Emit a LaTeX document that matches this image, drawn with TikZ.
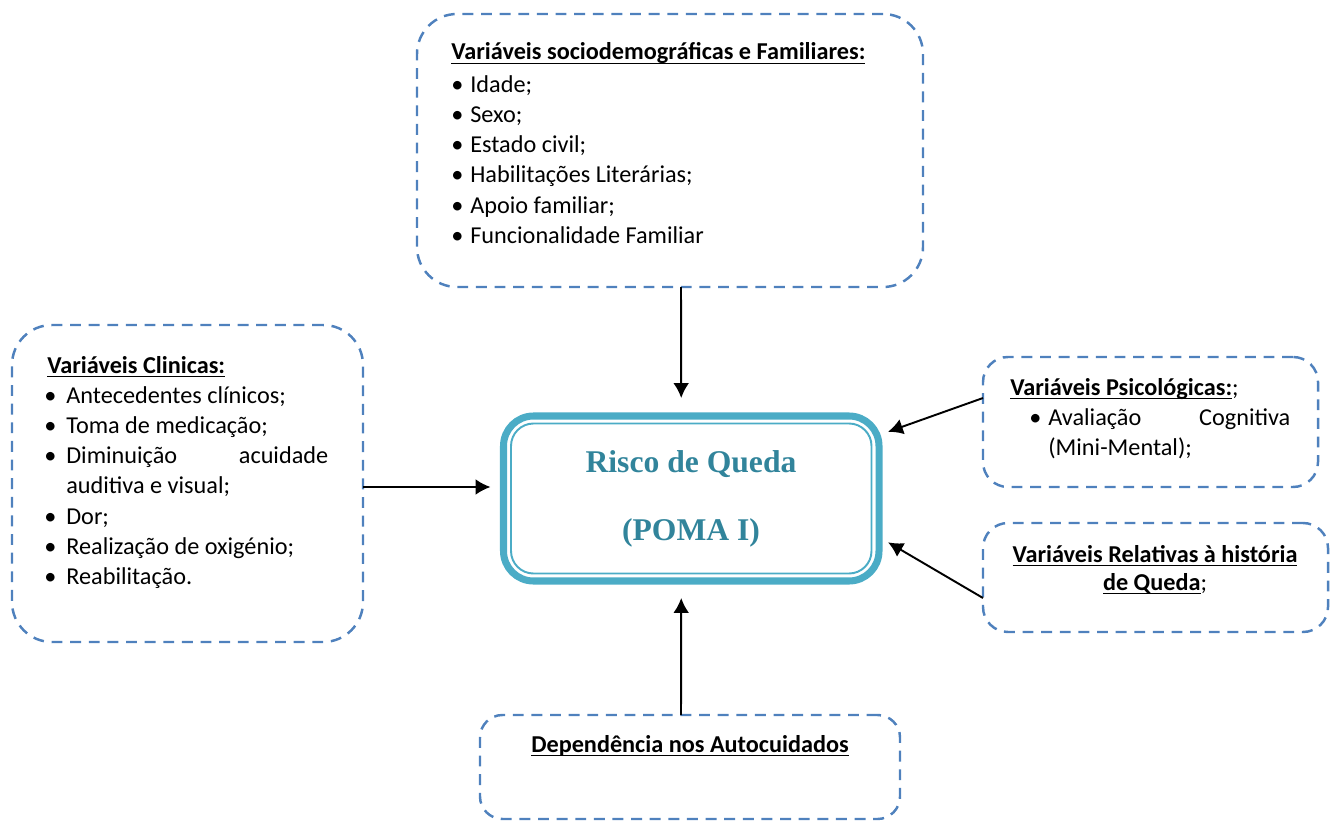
\documentclass[tikz,border=0pt]{standalone}
\usepackage{fontspec}
\setmainfont{Carlito}
\newfontfamily\pomafont{Liberation Serif}
\usetikzlibrary{fit,arrows.meta}

\definecolor{boxblue}{HTML}{4F81BD}
\definecolor{pomaline}{HTML}{4BACC6}
\definecolor{pomatext}{HTML}{31849B}

\newcommand\undl[1]{\setbox0\hbox{#1}\rlap{\rule[-2.4pt]{\wd0}{0.9pt}}\box0}
\newcommand\bul[1][4pt]{\llap{\textbullet\hspace{#1}}}

\begin{document}
\begin{tikzpicture}[x=0.02cm,y=-0.02cm,
  varbox/.style={draw=boxblue, line width=1.4pt, dash pattern=on 6.2pt off 4.4pt, inner sep=0pt, outer sep=0pt},
  txt/.style={anchor=base west, inner sep=0pt, font=\fontsize{13.8}{17}\selectfont},
  ttl/.style={txt, font=\fontsize{13.8}{17}\selectfont\bfseries},
  pomatxt/.style={anchor=base, inner sep=0pt, text=pomatext, font=\pomafont\fontsize{18}{22}\selectfont\bfseries},
  arr/.style={-{Latex[length=8.5pt,width=9pt]}, line width=1.1pt}]
\useasboundingbox (0,0) rectangle (1331,821);

% dashed boxes
\node[varbox, rounded corners=0.8cm, fit={(417,14) (923,287)}] (socio) {};
\node[varbox, rounded corners=0.8cm, fit={(12,325) (363,642)}] (clin) {};
\node[varbox, rounded corners=0.5cm, fit={(983,357) (1318,487)}] (psych) {};
\node[varbox, rounded corners=0.5cm, fit={(983,523) (1328,632)}] (hist) {};
\node[varbox, rounded corners=0.45cm, fit={(480,715) (900,819)}] (dep) {};

% central box
\node[draw=pomaline, line width=4pt, rounded corners=0.6cm, inner sep=0pt, outer sep=0pt, fit={(503.5,416) (879,581)}] (poma) {};
\node[draw=pomaline, line width=1.1pt, rounded corners=0.45cm, inner sep=-0.15cm, fit=(poma)] (pomain) {};
\node[pomatxt] (risco) at (691,472) {Risco de Queda};
\node[pomatxt] (pomaI) at (691,540) {(POMA I)};

% sociodemograficas
\node[ttl] (sociot) at (451,60) {\undl{Variáveis sociodemográficas e Familiares:}};
\foreach \t [count=\i from 0] in {Idade;,Sexo;,Estado civil;,Habilitações Literárias;,Apoio familiar;,Funcionalidade Familiar}
  \node[txt] (socio\i) at (470,92+30.3*\i) {\bul\t};

% clinicas
\node[ttl] (clint) at (47,373) {\undl{Variáveis Clinicas:}};
\foreach \t [count=\i from 0] in {{\bul[5.6pt]Antecedentes clínicos;},{\bul[5.6pt]Toma de medicação;},{\bul[5.6pt]\makebox[5.24cm][s]{Diminuição acuidade}},{auditiva e visual;},{\bul[5.6pt]Dor;},{\bul[5.6pt]Realização de oxigénio;},{\bul[5.6pt]Reabilitação.}}
  \node[txt] (clin\i) at (66,403+30.3*\i) {\t};

% psicologicas
\node[ttl] (psycht) at (1010,395) {\undl{Variáveis Psicológicas:}\mdseries;};
\node[txt] (psych0) at (1048,425) {\bul\makebox[4.84cm][s]{Avaliação Cognitiva}};
\node[txt] (psych1) at (1048,455) {(Mini-Mental);};

% historia de queda
\node[ttl, anchor=base] (histt) at (1155,562) {\undl{Variáveis Relativas à história}};
\node[ttl, anchor=base] (hist1) at (1155,590) {\undl{de Queda}\mdseries;};

% dependencia
\node[ttl, anchor=base] (dept) at (690,752) {\undl{Dependência nos Autocuidados}};

% arrows
\draw[arr, shorten >=0.36cm] ([xshift=0.22cm]socio.south) -- ([xshift=-0.2cm]poma.north);
\draw[arr, shorten >=0.26cm] ([yshift=-0.07cm]clin.east) -- ([yshift=0.23cm]poma.west);
\draw[arr, shorten >=0.34cm] ([xshift=-0.18cm]dep.north) -- ([xshift=-0.2cm]poma.south);
\draw[arr, shorten >=0.19cm] ([yshift=0.48cm]psych.west) -- ([yshift=1.27cm]poma.east);
\draw[arr, shorten >=0.21cm] ([yshift=-0.41cm]hist.west) -- ([yshift=-0.77cm]poma.east);

\end{tikzpicture}
\end{document}
